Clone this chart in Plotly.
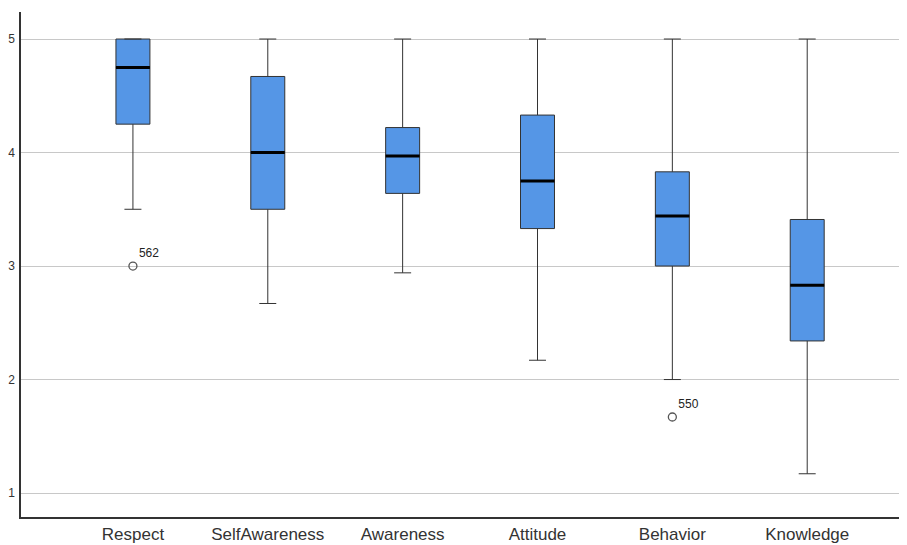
import plotly.graph_objects as go

categories = ["Respect", "SelfAwareness", "Awareness", "Attitude", "Behavior", "Knowledge"]
lower_whisker = [3.5, 2.67, 2.94, 2.17, 2.0, 1.17]
q1_values = [4.25, 3.5, 3.64, 3.33, 3.0, 2.34]
median_values = [4.75, 4.0, 3.97, 3.75, 3.44, 2.83]
q3_values = [5.0, 4.67, 4.22, 4.33, 3.83, 3.41]
upper_whisker = [5.0, 5.0, 5.0, 5.0, 5.0, 5.0]

outlier_category = ["Respect", "Behavior"]
outlier_values = [3.0, 1.67]
outlier_labels = ["562", "550"]

y_ticks = [1, 2, 3, 4, 5]

pos = list(range(len(categories)))
box_w = 0.252

fig = go.Figure()
fig.add_trace(go.Box(
    x=pos, q1=q1_values, median=median_values, q3=q3_values,
    lowerfence=lower_whisker, upperfence=upper_whisker,
    width=box_w, whiskerwidth=0.5,
    fillcolor="#5596E6", line=dict(color="#333333", width=1),
    boxpoints=False, hoverinfo="skip", showlegend=False,
))

mx, my = [], []
for p, m in zip(pos, median_values):
    mx += [p - box_w / 2, p + box_w / 2, None]
    my += [m, m, None]
fig.add_trace(go.Scatter(x=mx, y=my, mode="lines",
                         line=dict(color="black", width=3), showlegend=False, hoverinfo="skip"))

ox = [categories.index(c) for c in outlier_category]
fig.add_trace(go.Scatter(
    x=ox, y=outlier_values, mode="markers+text", text=outlier_labels,
    textposition="top right", textfont=dict(size=12, color="#222222", family="Liberation Sans, Arial"),
    marker=dict(symbol="circle-open", size=8, color="#555555", line=dict(width=1.3)),
    showlegend=False, hoverinfo="skip",
))

# page body has an 8px margin, so the figure is sized/offset to compensate
fig.update_layout(
    width=899, height=537,
    margin=dict(l=13, r=0, t=4, b=28, autoexpand=False),
    plot_bgcolor="white", paper_bgcolor="white",
    font=dict(family="Liberation Sans, Arial", color="#333333"),
)
fig.update_xaxes(
    range=[-0.83, 5.74], tickvals=pos, ticktext=categories,
    showgrid=False, zeroline=False, automargin=False,
    showline=True, linecolor="#333333", linewidth=1.5,
    tickfont=dict(size=17, color="#333333"), ticks="", ticklen=0,
    ticklabelstandoff=1,
)
fig.update_yaxes(
    range=[0.789, 5.238], tickvals=y_ticks,
    showgrid=True, gridcolor="#c8c8c8", gridwidth=1, zeroline=False, automargin=False,
    showline=True, linecolor="#333333", linewidth=1.5,
    tickfont=dict(size=12, color="#333333"), ticks="", ticklabelstandoff=2,
)

fig.write_html("out.html")
